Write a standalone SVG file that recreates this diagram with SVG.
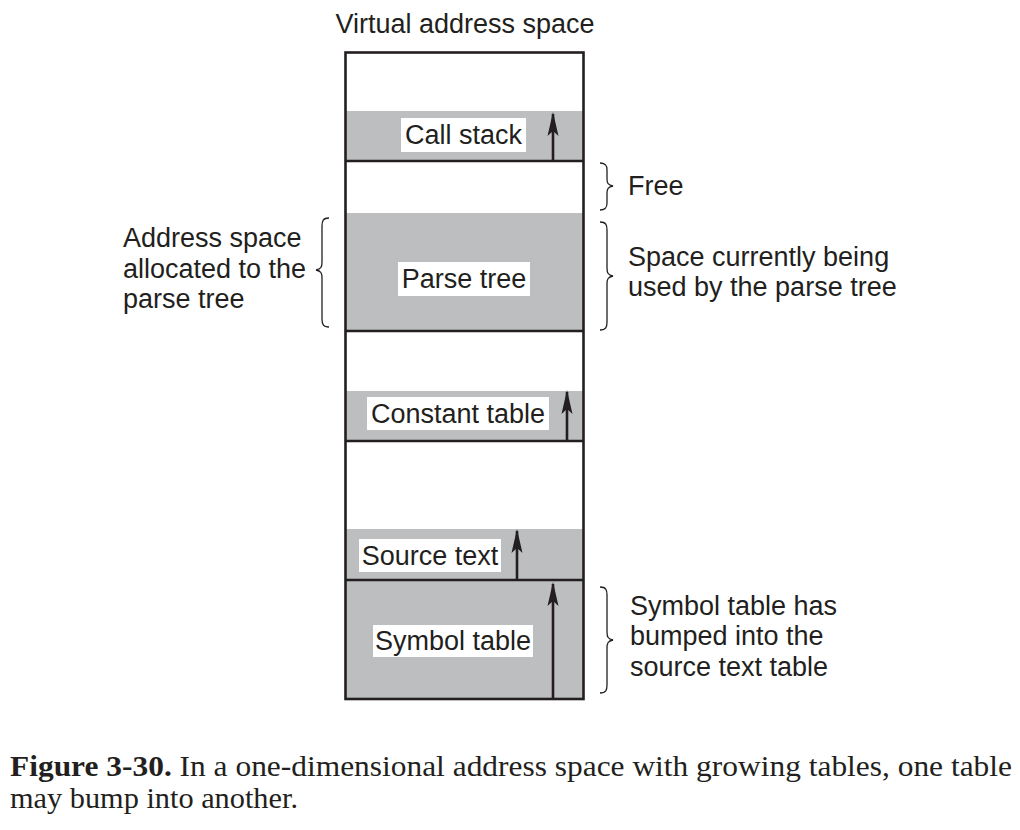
<svg xmlns="http://www.w3.org/2000/svg" width="1020" height="830" viewBox="0 0 1020 830">
<style>
.t{font-family:"Liberation Sans",Arial,sans-serif;font-size:27px;fill:#231f20}
.c{text-anchor:middle}
.g{fill:#bcbec0}
.ln{stroke:#231f20;stroke-width:2.6;fill:none}
.br{stroke:#231f20;stroke-width:1.3;fill:none}
.lab{fill:#fff}
.cap{font-family:"Liberation Serif","Times New Roman",serif;font-size:30px;fill:#231f20}
</style>
<defs>
<marker id="ah" viewBox="0 0 24 12" refX="22" refY="6" markerWidth="24" markerHeight="12" markerUnits="userSpaceOnUse" orient="auto">
<path d="M24,6 L0,0.5 L5,6 L0,11.5 Z" fill="#231f20"/>
</marker>
</defs>
<rect width="1020" height="830" fill="#fff"/>
<text class="t c" x="465" y="33">Virtual address space</text>
<g id="call-stack">
<rect class="g" x="346" y="111" width="237" height="50"/>
<rect class="lab" x="401" y="118" width="125" height="34"/>
<text class="t c" x="463.5" y="144">Call stack</text>
</g>
<g id="free">
<rect x="346" y="161" width="237" height="52" fill="#fff"/>
</g>
<g id="parse-tree">
<rect class="g" x="346" y="213" width="237" height="118"/>
<rect class="lab" x="398" y="262" width="132" height="34"/>
<text class="t c" x="464" y="288">Parse tree</text>
</g>
<g id="constant-table">
<rect class="g" x="346" y="391" width="237" height="50"/>
<rect class="lab" x="367" y="397" width="182" height="33"/>
<text class="t c" x="458" y="423">Constant table</text>
</g>
<g id="source-text">
<rect class="g" x="346" y="529" width="237" height="51"/>
<rect class="lab" x="359" y="539" width="142" height="33"/>
<text class="t c" x="430" y="565">Source text</text>
</g>
<g id="symbol-table">
<rect class="g" x="346" y="580" width="237" height="119"/>
<rect class="lab" x="373" y="625" width="160" height="32"/>
<text class="t c" x="453" y="650">Symbol table</text>
</g>
<g id="frame">
<rect class="ln" x="345.5" y="52.5" width="238" height="646.5"/>
<line class="ln" x1="345" y1="161" x2="584" y2="161"/>
<line class="ln" x1="345" y1="331" x2="584" y2="331"/>
<line class="ln" x1="345" y1="441" x2="584" y2="441"/>
<line class="ln" x1="345" y1="580" x2="584" y2="580"/>
</g>
<g id="connectors">
<line class="ln" x1="553" y1="161" x2="553" y2="114" marker-end="url(#ah)"/>
<line class="ln" x1="567" y1="441" x2="567" y2="392" marker-end="url(#ah)"/>
<line class="ln" x1="517" y1="580" x2="517" y2="531" marker-end="url(#ah)"/>
<line class="ln" x1="553" y1="699" x2="553" y2="584" marker-end="url(#ah)"/>
</g>
<g id="brace-left">
<path class="br" d="M329,218 C323,218 322,221 322,226 L322,262 C322,267 321,269 316,270 C321,271 322,273 322,278 L322,319 C322,324 323,327 329,327"/>
<text class="t" x="123" y="247">Address space</text>
<text class="t" x="123" y="278">allocated to the</text>
<text class="t" x="123" y="308">parse tree</text>
</g>
<g id="brace-free">
<path class="br" d="M600,163 C606,163 607,166 607,170 L607,179 C607,183 608,185 613,186 C608,187 607,189 607,193 L607,203 C607,207 606,210 600,210"/>
<text class="t" x="628" y="195">Free</text>
</g>
<g id="brace-parse">
<path class="br" d="M600,222 C606,222 607,225 607,230 L607,268 C607,273 608,275 613,276 C608,277 607,279 607,284 L607,322 C607,327 606,330 600,330"/>
<text class="t" x="628" y="266">Space currently being</text>
<text class="t" x="628" y="296">used by the parse tree</text>
</g>
<g id="brace-symbol">
<path class="br" d="M600,587 C606,587 607,590 607,595 L607,632 C607,637 608,639 613,640 C608,641 607,643 607,648 L607,685 C607,690 606,693 600,693"/>
<text class="t" x="630" y="615">Symbol table has</text>
<text class="t" x="630" y="645">bumped into the</text>
<text class="t" x="630" y="676">source text table</text>
</g>
<g id="caption">
<text class="cap" x="10" y="776" textLength="1002" lengthAdjust="spacingAndGlyphs"><tspan font-weight="bold">Figure 3-30.</tspan> In a one-dimensional address space with growing tables, one table</text>
<text class="cap" x="10" y="808" textLength="288" lengthAdjust="spacingAndGlyphs">may bump into another.</text>
</g>
</svg>
